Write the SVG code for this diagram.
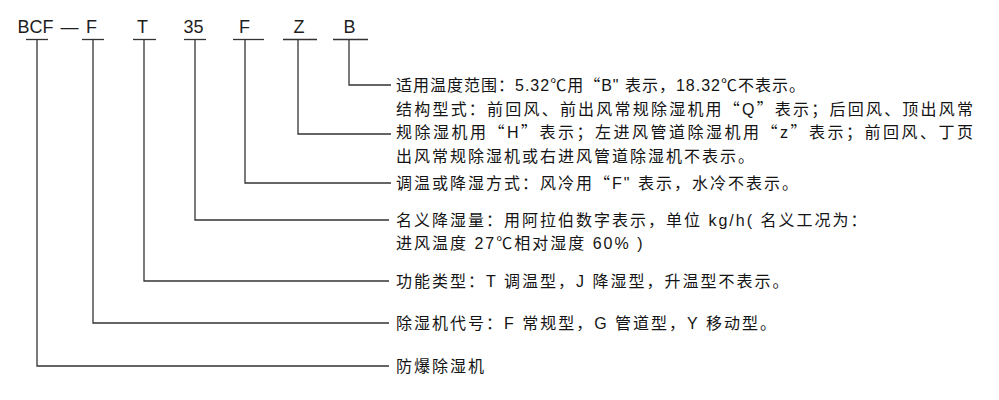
<svg xmlns="http://www.w3.org/2000/svg" width="999" height="400" viewBox="0 0 999 400">
<style>
.code{font-family:"Liberation Sans","Noto Sans CJK SC",sans-serif;font-size:18px;fill:#1e1e1e;text-anchor:middle}
.desc{font-family:"Liberation Sans","Noto Sans CJK SC",sans-serif;font-size:16px;fill:#141414;letter-spacing:2px}
.q{font-family:"Noto Sans CJK SC",sans-serif}
.ul{stroke:#333;stroke-width:1.3;fill:none}
.conn path{stroke:#333;stroke-width:1.3;fill:none}
</style>
<rect width="999" height="400" fill="#fff"/>
<g id="code-BCF"><text class="code" x="35.5" y="32.5">BCF</text><line class="ul" x1="26" y1="39.5" x2="48" y2="39.5"/></g>
<g id="code-dash"><text class="code" x="69.5" y="32.5">—</text></g>
<g id="code-F1"><text class="code" x="91.5" y="32.5">F</text><line class="ul" x1="82" y1="39.5" x2="104" y2="39.5"/></g>
<g id="code-T"><text class="code" x="142.5" y="32.5">T</text><line class="ul" x1="133" y1="39.5" x2="156" y2="39.5"/></g>
<g id="code-35"><text class="code" x="193.5" y="32.5">35</text><line class="ul" x1="184" y1="39.5" x2="206" y2="39.5"/></g>
<g id="code-F2"><text class="code" x="244.5" y="32.5">F</text><line class="ul" x1="233" y1="39.5" x2="264" y2="39.5"/></g>
<g id="code-Z"><text class="code" x="299" y="32.5">Z</text><line class="ul" x1="283" y1="39.5" x2="317" y2="39.5"/></g>
<g id="code-B"><text class="code" x="349.5" y="32.5">B</text><line class="ul" x1="333" y1="39.5" x2="368" y2="39.5"/></g>

<g id="connectors" class="conn">
<path d="M349 39.5V85H391"/>
<path d="M298 39.5V134H391"/>
<path d="M245 39.5V183H391"/>
<path d="M195 39.5V220H389"/>
<path d="M144 39.5V281H389"/>
<path d="M93 39.5V323H389"/>
<path d="M37 39.5V366H389"/>
</g>

<g id="desc-B"><text class="desc" x="396" y="91" textLength="411" lengthAdjust="spacing">适用温度范围：5.32℃用<tspan class="q">“</tspan>B" 表示，18.32℃不表示。</text></g>
<g id="desc-Z">
<text class="desc" x="396" y="114.5" textLength="579" lengthAdjust="spacing">结构型式：前回风、前出风常规除湿机用<tspan class="q">“</tspan>Q<tspan class="q">”</tspan>表示；后回风、顶出风常</text>
<text class="desc" x="396" y="138" textLength="579" lengthAdjust="spacing">规除湿机用<tspan class="q">“</tspan>H<tspan class="q">”</tspan>表示；左进风管道除湿机用<tspan class="q">“</tspan>z<tspan class="q">”</tspan>表示；前回风、丁页</text>
<text class="desc" x="396" y="161.5">出风常规除湿机或右进风管道除湿机不表示。</text>
</g>
<g id="desc-F2"><text class="desc" x="396" y="189">调温或降湿方式：风冷用<tspan class="q">“</tspan>F" 表示，水冷不表示。</text></g>
<g id="desc-35">
<text class="desc" x="396" y="226">名义降湿量：用阿拉伯数字表示，单位 kg/h( 名义工况为：</text>
<text class="desc" x="396" y="249">进风温度 27℃相对湿度 60% )</text>
</g>
<g id="desc-T"><text class="desc" x="396" y="287">功能类型：T 调温型，J 降湿型，升温型不表示。</text></g>
<g id="desc-F1"><text class="desc" x="396" y="329">除湿机代号：F 常规型，G 管道型，Y 移动型。</text></g>
<g id="desc-BCF"><text class="desc" x="396" y="372">防爆除湿机</text></g>
</svg>
